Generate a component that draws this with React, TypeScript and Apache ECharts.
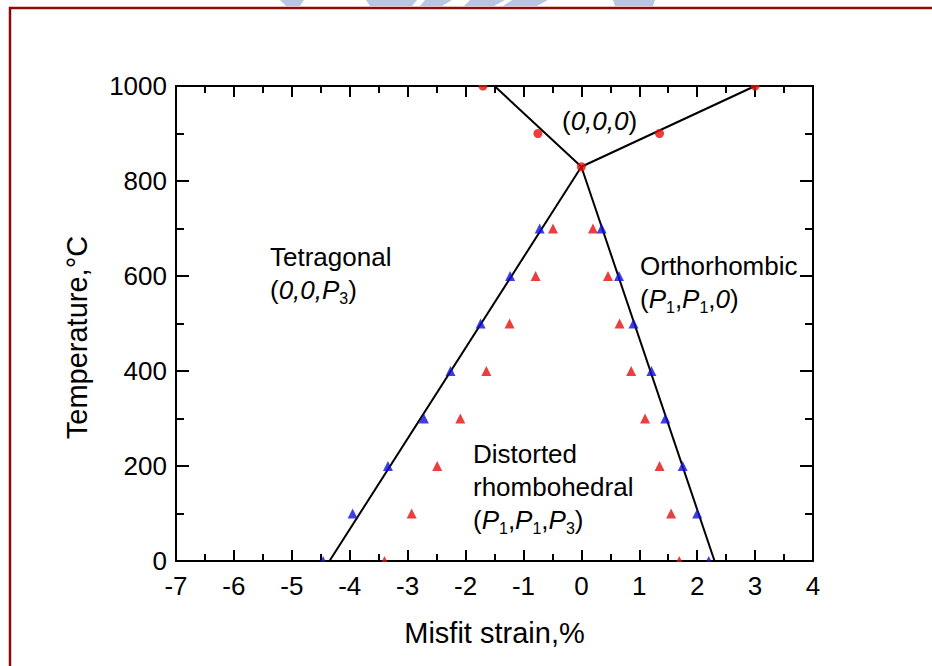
import React, { useEffect, useRef } from "react";
import * as echarts from "echarts";

const FONT = "'Liberation Sans', Arial, sans-serif";

// x: misfit strain (%), y: temperature (°C)
const xRange = [-7, 4];
const yRange = [0, 1000];

const blueTriangles: [number, number][] = [
  [-4.46, 0], [-3.95, 100], [-3.34, 200], [-2.72, 300], [-2.26, 400], [-1.74, 500], [-1.23, 600], [-0.72, 700],
  [0.35, 700], [0.65, 600], [0.9, 500], [1.21, 400], [1.45, 300], [1.75, 200], [2.0, 100], [2.2, 0],
];
const redTriangles: [number, number][] = [
  [-3.4, 0], [-2.93, 100], [-2.49, 200], [-2.09, 300], [-1.64, 400], [-1.24, 500], [-0.79, 600], [-0.49, 700],
  [0.2, 700], [0.46, 600], [0.66, 500], [0.86, 400], [1.1, 300], [1.35, 200], [1.55, 100], [1.69, 0],
];
const redCircles: [number, number][] = [
  [-1.7, 1000], [-0.75, 900], [0, 830], [1.35, 900], [3.0, 1000],
];
const leftBoundary: [number, number][] = [[-4.35, 0], [0, 830]];
const rightBoundary: [number, number][] = [[0, 830], [2.3, 0]];
const upperLeftBoundary: [number, number][] = [[0, 830], [-1.5, 1000]];
const upperRightBoundary: [number, number][] = [[0, 830], [3.0, 1000]];

const richStyles = {
  n: { fontFamily: FONT, fontSize: 26, lineHeight: 33, fill: "#000" },
  i: { fontFamily: FONT, fontSize: 26, lineHeight: 33, fontStyle: "italic", fill: "#000" },
  s: { fontFamily: FONT, fontSize: 16, lineHeight: 16, verticalAlign: "bottom", fill: "#000" },
};

function annotation(x: number, y: number, text: string) {
  return {
    type: "text",
    x,
    y,
    z: 50,
    style: {
      text,
      fontFamily: FONT,
      fontSize: 26,
      lineHeight: 33,
      fill: "#000",
      verticalAlign: "top",
      align: "left",
      rich: richStyles,
    },
  };
}

const watermark: number[][][] = [
  [[280, 0], [304, 0], [300, 6], [286, 6]],
  [[366, 0], [417, 0], [412, 6], [370, 6]],
  [[425, 0], [452, 0], [442, 6], [420, 6]],
  [[470, 0], [505, 0], [494, 6], [464, 6]],
  [[512, 0], [548, 0], [537, 6], [503, 6]],
  [[613, 0], [655, 0], [653, 6], [615, 6]],
];

function lineSeries(data: [number, number][]) {
  return {
    type: "line",
    data,
    showSymbol: false,
    symbol: "none",
    lineStyle: { color: "#000", width: 2 },
    z: 3,
  };
}

const axisCommon = {
  axisLine: { show: true, onZero: false, lineStyle: { color: "#000", width: 2 } },
  axisTick: { show: true, inside: true, length: 11, lineStyle: { color: "#000", width: 2 } },
  minorTick: { show: true, splitNumber: 2, length: 7, lineStyle: { color: "#000", width: 2 } },
  splitLine: { show: false },
};

export default function App() {
  const ref = useRef<HTMLDivElement>(null);
  useEffect(() => {
    if (!ref.current) return;
    const chart = echarts.init(ref.current, undefined, { renderer: "svg" });
    chart.setOption({
      animation: false,
      backgroundColor: "#fff",
      grid: { left: 176, top: 86, width: 637, height: 475, containLabel: false },
      xAxis: [
        {
          type: "value",
          min: xRange[0],
          max: xRange[1],
          interval: 1,
          position: "bottom",
          ...axisCommon,
          axisLabel: {
            show: true, margin: 12, color: "#000", fontFamily: FONT, fontSize: 26,
            formatter: (v: number) => String(v),
          },
          name: "Misfit strain,%",
          nameLocation: "middle",
          nameGap: 57,
          nameTextStyle: { color: "#000", fontFamily: FONT, fontSize: 29 },
        },
        {
          type: "value",
          min: xRange[0],
          max: xRange[1],
          interval: 1,
          position: "top",
          ...axisCommon,
          axisLabel: { show: false },
        },
      ],
      yAxis: [
        {
          type: "value",
          min: yRange[0],
          max: yRange[1],
          interval: 200,
          position: "left",
          ...axisCommon,
          axisTick: { ...axisCommon.axisTick, length: 13 },
          minorTick: { ...axisCommon.minorTick, length: 8 },
          axisLabel: {
            show: true, margin: 9, color: "#000", fontFamily: FONT, fontSize: 26,
            formatter: (v: number) => String(v),
          },
          name: "Temperature,°C",
          nameLocation: "middle",
          nameGap: 85,
          nameRotate: 90,
          nameTextStyle: { color: "#000", fontFamily: FONT, fontSize: 29, padding: [0, 28, 0, 0] },
        },
        {
          type: "value",
          min: yRange[0],
          max: yRange[1],
          interval: 200,
          position: "right",
          ...axisCommon,
          axisTick: { ...axisCommon.axisTick, length: 13 },
          minorTick: { ...axisCommon.minorTick, length: 8 },
          axisLabel: { show: false },
        },
      ],
      series: [
        lineSeries(leftBoundary),
        lineSeries(rightBoundary),
        lineSeries(upperLeftBoundary),
        lineSeries(upperRightBoundary),
        {
          type: "scatter",
          data: blueTriangles,
          symbol: "triangle",
          symbolSize: 10,
          itemStyle: { color: "#1010d8" },
          z: 4,
        },
        {
          type: "scatter",
          data: redTriangles,
          symbol: "triangle",
          symbolSize: 10,
          itemStyle: { color: "#e60e0e" },
          z: 4,
        },
        {
          type: "scatter",
          data: redCircles,
          symbol: "circle",
          symbolSize: 9,
          itemStyle: { color: "#e60e0e" },
          z: 4,
        },
      ],
      graphic: {
        elements: [
          ...watermark.map((pts) => ({
            type: "polygon",
            z: 1,
            shape: { points: pts },
            style: { fill: "#b8c6e4" },
          })),
          {
            type: "rect",
            z: 2,
            shape: { x: 10, y: 8, width: 1000, height: 700 },
            style: { fill: "none", stroke: "#8b0a0a", lineWidth: 2.5 },
          },
          // masks to clip markers at the plot frame
          {
            type: "rect",
            z: 100,
            shape: { x: 170, y: 60, width: 650, height: 25 },
            style: { fill: "#fff" },
          },
          {
            type: "rect",
            z: 100,
            shape: { x: 177, y: 562, width: 635, height: 10 },
            style: { fill: "#fff" },
          },
          annotation(270, 240, "Tetragonal\n{n|(}{i|0,0,P}{s|3}{n|)}"),
          annotation(562, 104, "{n|(}{i|0,0,0}{n|)}"),
          annotation(640, 249, "Orthorhombic\n{n|(}{i|P}{s|1}{n|,}{i|P}{s|1}{n|,}{i|0}{n|)}"),
          annotation(473, 437, "Distorted\nrhombohedral\n{n|(}{i|P}{s|1}{n|,}{i|P}{s|1}{n|,}{i|P}{s|3}{n|)}"),
        ],
      },
    });
    return () => chart.dispose();
  }, []);
  return (
    <div
      ref={ref}
      style={{ position: "absolute", left: 0, top: 0, width: 932, height: 666, background: "#fff" }}
    />
  );
}
